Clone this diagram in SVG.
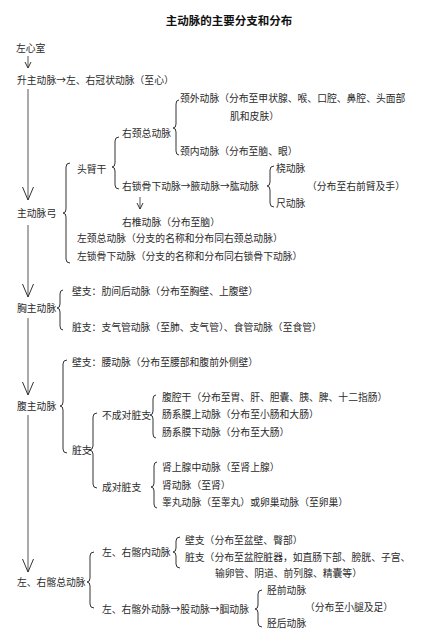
<svg xmlns="http://www.w3.org/2000/svg" width="448" height="642" viewBox="0 0 448 642">
<style>
text{font-family:"Noto Sans CJK SC","Noto Sans",sans-serif;font-size:9.8px;fill:#2a2a2a}
.t{font-size:11.5px;font-weight:bold;fill:#111}
.ln{fill:none;stroke:#444;stroke-width:0.9}
.br{fill:none;stroke:#333;stroke-width:1}
</style>
<defs>
<marker id="v" viewBox="-1 -7 15 14" refX="13" refY="0" markerWidth="15" markerHeight="14" markerUnits="userSpaceOnUse" orient="auto">
<path d="M0,-5.5 L13,0 L0,5.5" fill="none" stroke="#333" stroke-width="1"/>
</marker>
<marker id="vs" viewBox="-1 -4 8 8" refX="6" refY="0" markerWidth="8" markerHeight="8" markerUnits="userSpaceOnUse" orient="auto">
<path d="M0,-3 L6,0 L0,3" fill="none" stroke="#333" stroke-width="1"/>
</marker>
</defs>
<rect width="448" height="642" fill="#fff"/>
<g id="title"><text class="t" x="229" y="25" text-anchor="middle">主动脉的主要分支和分布</text></g>

<g id="connectors">
<path class="ln" d="M28,56 V68" marker-end="url(#vs)"/>
<path class="ln" d="M28,89 V200" marker-end="url(#v)"/>
<path class="ln" d="M28,225 V297" marker-end="url(#v)"/>
<path class="ln" d="M28,318 V395" marker-end="url(#v)"/>
<path class="ln" d="M28,415 V572" marker-end="url(#v)"/>
<path class="ln" d="M140,197 V209" marker-end="url(#vs)"/>
<!-- braces -->
<path class="br" d="M70,163 Q66,163 66,167 L66,209 Q66,213 63,213 Q66,213 66,217 L66,259 Q66,263 70,263"/>
<path class="br" d="M119,137 Q115,137 115,141 L115,163 Q115,167 112,167 Q115,167 115,171 L115,185 Q115,189 119,189"/>
<path class="br" d="M179,100 Q176,100 176,104 L176,124 Q176,128 173,128 Q176,128 176,132 L176,151 Q176,155 179,155"/>
<path class="br" d="M274,166 Q270,166 270,170 L270,182 Q270,186 267,186 Q270,186 270,190 L270,203 Q270,207 274,207"/>
<path class="br" d="M63,290 Q60,290 60,294 L60,304 Q60,308 57,308 Q60,308 60,312 L60,326 Q60,330 63,330"/>
<path class="br" d="M67,360 Q63,360 63,364 L63,402 Q63,406 60,406 Q63,406 63,410 L63,449 Q63,453 67,453"/>
<path class="br" d="M97,413 Q93,413 93,417 L93,446 Q93,450 89,450 Q93,450 93,454 L93,484 Q93,488 97,488"/>
<path class="br" d="M156,395 Q153,395 153,399 L153,411 Q153,415 150,415 Q153,415 153,419 L153,434 Q153,438 156,438"/>
<path class="br" d="M157,462 Q154,462 154,466 L154,483 Q154,487 151,487 Q154,487 154,491 L154,504 Q154,508 157,508"/>
<path class="br" d="M94,552 Q90,552 90,556 L90,578 Q90,582 87,582 Q90,582 90,586 L90,604 Q90,608 94,608"/>
<path class="br" d="M180,537 Q176,537 176,541 L176,548 Q176,552 173,552 Q176,552 176,556 L176,564 Q176,568 180,568"/>
<path class="br" d="M262,590 Q258,590 258,594 L258,605 Q258,609 255,609 Q258,609 258,613 L258,623 Q258,627 262,627"/>
</g>

<g id="n-lv"><text x="16" y="51.5">左心室</text></g>
<g id="n-asc"><text x="17" y="84">升主动脉→左、右冠状动脉（至心）</text></g>
<g id="n-eca"><text x="180" y="101.5">颈外动脉（分布至甲状腺、喉、口腔、鼻腔、头面部</text><text x="230" y="119.5">肌和皮肤）</text></g>
<g id="n-rcca"><text x="122" y="136.5">右颈总动脉</text></g>
<g id="n-ica"><text x="180" y="154.5">颈内动脉（分布至脑、眼）</text></g>
<g id="n-bct"><text x="77" y="173">头臂干</text></g>
<g id="n-radial"><text x="276" y="171.5">桡动脉</text></g>
<g id="n-rsca"><text x="122" y="189.5">右锁骨下动脉→腋动脉→肱动脉</text></g>
<g id="n-arm"><text x="307" y="189.5">（分布至右前臂及手）</text></g>
<g id="n-ulnar"><text x="276" y="207">尺动脉</text></g>
<g id="n-arch"><text x="17" y="216.5">主动脉弓</text></g>
<g id="n-vert"><text x="122" y="225.5">右椎动脉（分布至脑）</text></g>
<g id="n-lcca"><text x="77" y="241.5">左颈总动脉（分支的名称和分布同右颈总动脉）</text></g>
<g id="n-lsca"><text x="77" y="259.5">左锁骨下动脉（分支的名称和分布同右锁骨下动脉）</text></g>
<g id="n-thwall"><text x="72" y="294.5">壁支：肋间后动脉（分布至胸壁、上腹壁）</text></g>
<g id="n-thor"><text x="17" y="311.5">胸主动脉</text></g>
<g id="n-thvisc"><text x="72" y="330.5">脏支：支气管动脉（至肺、支气管）、食管动脉（至食管）</text></g>
<g id="n-abwall"><text x="72" y="365.5">壁支：腰动脉（分布至腰部和腹前外侧壁）</text></g>
<g id="n-celiac"><text x="162" y="400.5">腹腔干（分布至胃、肝、胆囊、胰、脾、十二指肠）</text></g>
<g id="n-abd"><text x="17" y="409.5">腹主动脉</text></g>
<g id="n-unpaired"><text x="102" y="418.5">不成对脏支</text></g>
<g id="n-sma"><text x="162" y="417.5">肠系膜上动脉（分布至小肠和大肠）</text></g>
<g id="n-ima"><text x="162" y="435.5">肠系膜下动脉（分布至大肠）</text></g>
<g id="n-abvisc"><text x="72" y="453.5">脏支</text></g>
<g id="n-adrenal"><text x="162" y="470.5">肾上腺中动脉（至肾上腺）</text></g>
<g id="n-renal"><text x="162" y="488.5">肾动脉（至肾）</text></g>
<g id="n-paired"><text x="102" y="490.5">成对脏支</text></g>
<g id="n-gonad"><text x="162" y="505.5">睾丸动脉（至睾丸）或卵巢动脉（至卵巢）</text></g>
<g id="n-pwall"><text x="185" y="543.5">壁支（分布至盆壁、臀部）</text></g>
<g id="n-iia"><text x="102" y="555.5">左、右髂内动脉</text></g>
<g id="n-pvisc"><text x="185" y="560.5">脏支（分布至盆腔脏器，如直肠下部、膀胱、子宫、</text><text x="215" y="576.5">输卵管、阴道、前列腺、精囊等）</text></g>
<g id="n-cia"><text x="17" y="585.5">左、右髂总动脉</text></g>
<g id="n-ata"><text x="267" y="593.5">胫前动脉</text></g>
<g id="n-leg"><text x="305" y="610.5">（分布至小腿及足）</text></g>
<g id="n-eia"><text x="102" y="612.5">左、右髂外动脉→股动脉→腘动脉</text></g>
<g id="n-pta"><text x="267" y="626.5">胫后动脉</text></g>
</svg>
